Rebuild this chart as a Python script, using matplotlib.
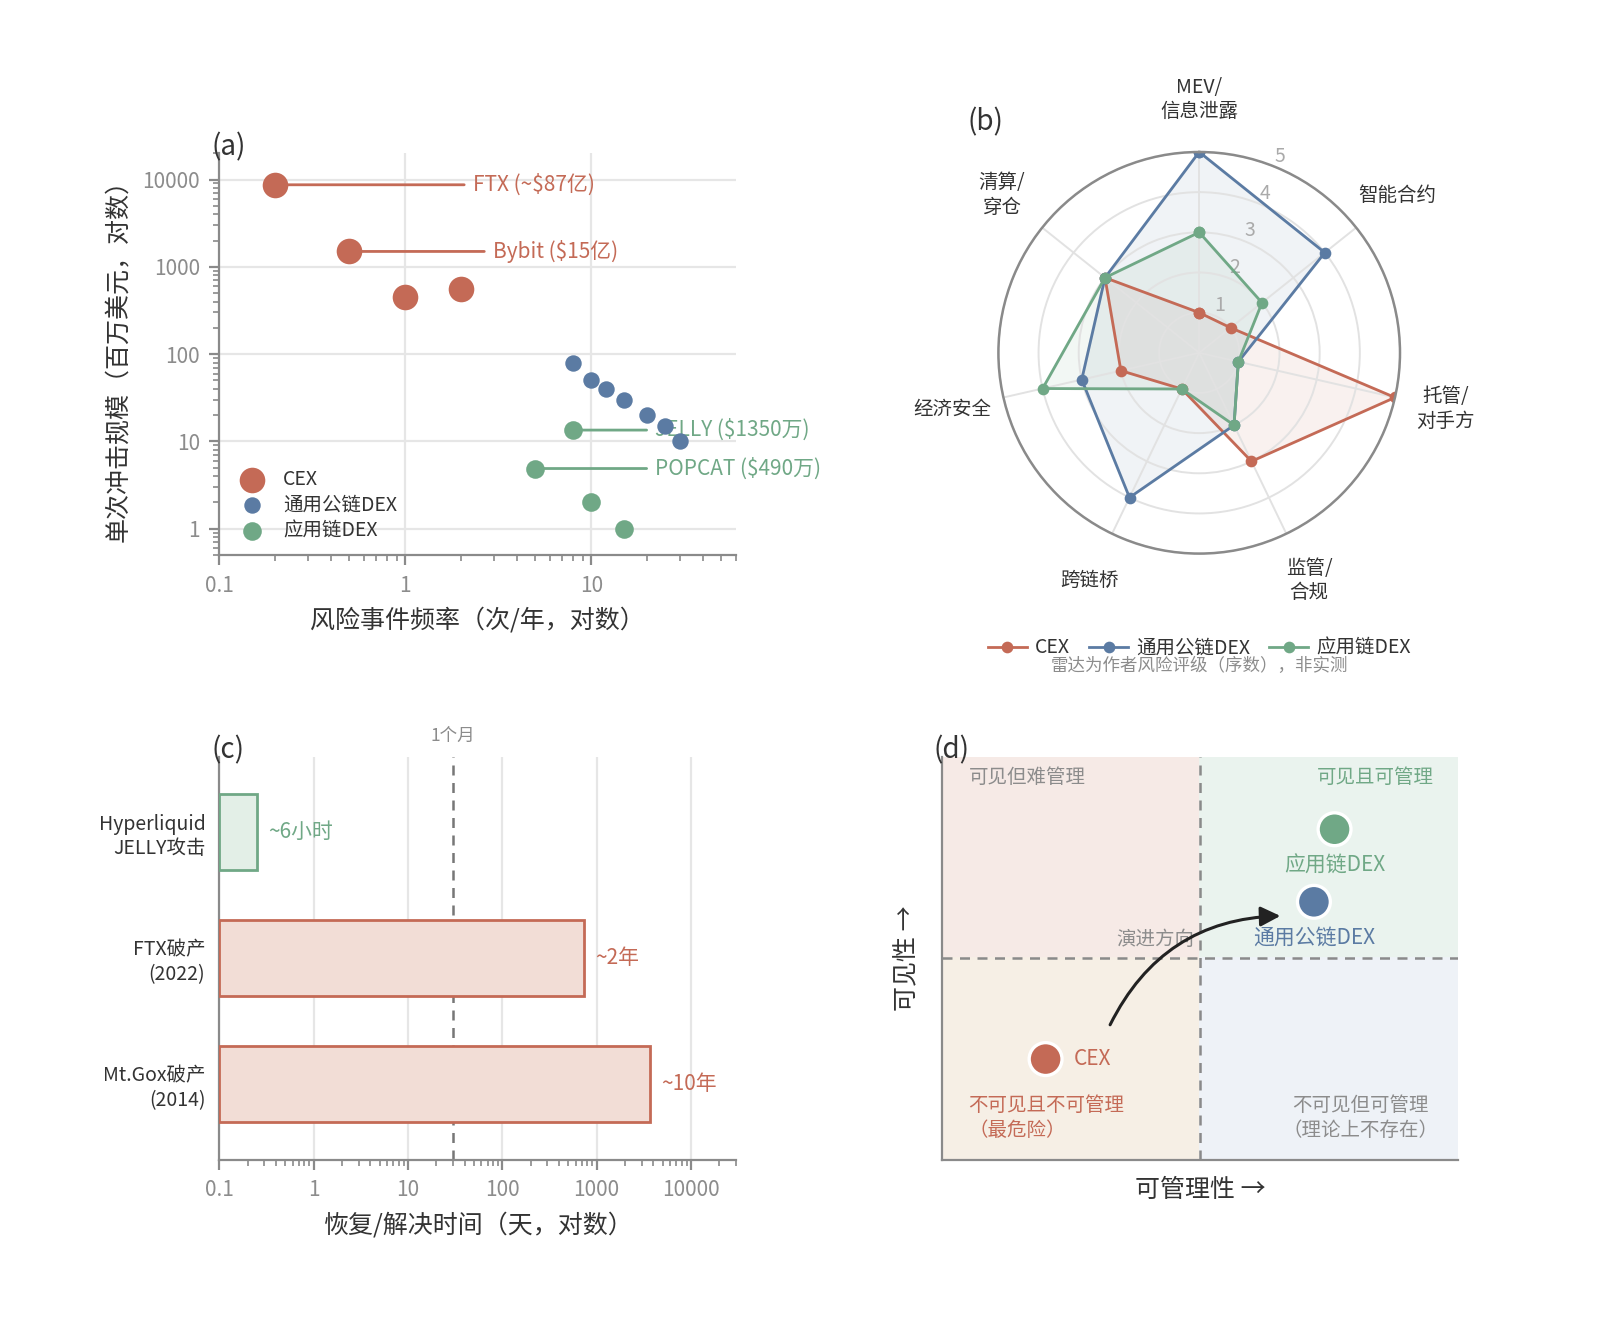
import numpy as np
import matplotlib.pyplot as plt
from matplotlib.patches import Rectangle

plt.rcParams['font.family'] = ['Noto Sans CJK SC', 'DejaVu Sans']
plt.rcParams['axes.unicode_minus'] = False

RED = '#C46A56'
BLUE = '#5B7BA3'
GREEN = '#70A886'
GRID = '#E6E6E6'
SPINE = '#8A8A8A'
TXT = '#333333'
GREY = '#8C8C8C'

# ---- (a) frequency vs impact ----
cex_freq = [0.2, 0.5, 1, 2]
cex_loss = [8700, 1500, 450, 550]
pub_freq = [8, 10, 12, 15, 20, 25, 30]
pub_loss = [80, 50, 40, 30, 20, 15, 10]
app_freq = [8, 5, 10, 15]
app_loss = [13.5, 4.9, 2, 1]
note_text = ['FTX (~$87亿)', 'Bybit ($15亿)', 'JELLY ($1350万)', 'POPCAT ($490万)']
note_px = [0.2, 0.5, 8, 5]
note_py = [8700, 1500, 13.5, 4.9]
note_tx = [2.3, 2.95, 22, 22]
note_col = [RED, RED, GREEN, GREEN]
a_xticks = [0.1, 1, 10]
a_xlabels = ['0.1', '1', '10']
a_yticks = [1, 10, 100, 1000, 10000]
a_ylabels = ['1', '10', '100', '1000', '10000']

# ---- (b) radar ----
radar_axes = ['MEV/\n信息泄露', '智能合约', '托管/\n对手方', '监管/\n合规', '跨链桥', '经济安全', '清算/\n穿仓']
radar_cex = [1, 1, 5, 3, 1, 2, 3]
radar_pub = [5, 4, 1, 2, 4, 3, 3]
radar_app = [3, 2, 1, 2, 1, 4, 3]

# ---- (c) recovery time ----
events = ['Hyperliquid\nJELLY攻击', 'FTX破产\n(2022)', 'Mt.Gox破产\n(2014)']
days = [0.25, 730, 3650]
day_text = ['~6小时', '~2年', '~10年']
c_xticks = [0.1, 1, 10, 100, 1000, 10000]
c_xlabels = ['0.1', '1', '10', '100', '1000', '10000']

# ---- (d) quadrant ----
d_names = ['CEX', '通用公链DEX', '应用链DEX']
d_manage = [0.2, 0.72, 0.76]
d_visible = [0.25, 0.64, 0.82]

fig = plt.figure(figsize=(8, 6.72), dpi=200)

# ================= (a) =================
ax = fig.add_axes([0.137, 0.587, 0.323, 0.299])
ax.set_xscale('log')
ax.set_yscale('log')
ax.set_xlim(0.1, 60)
ax.set_ylim(0.5, 2e4)
ax.scatter(cex_freq, cex_loss, s=85, color=RED, label='CEX', zorder=3, linewidths=0)
ax.scatter(pub_freq, pub_loss, s=35, color=BLUE, label='通用公链DEX', zorder=3, linewidths=0)
ax.scatter(app_freq, app_loss, s=45, color=GREEN, label='应用链DEX', zorder=3, linewidths=0)
for t, px, py, tx, c in zip(note_text, note_px, note_py, note_tx, note_col):
    ax.annotate(t, xy=(px, py), xytext=(tx, py), color=c, fontsize=7.5, va='center',
                arrowprops=dict(arrowstyle='-', color=c, lw=1.0, shrinkA=1, shrinkB=0), zorder=2)
ax.set_xticks(a_xticks, a_xlabels)
ax.set_yticks(a_yticks, a_ylabels)
ax.grid(True, which='major', color=GRID, lw=0.8)
ax.set_axisbelow(True)
for s in ['top', 'right']:
    ax.spines[s].set_visible(False)
for s in ['left', 'bottom']:
    ax.spines[s].set_color(SPINE)
ax.tick_params(which='both', colors=SPINE, labelcolor=GREY, labelsize=7.5)
ax.set_xlabel('风险事件频率（次/年，对数）', fontsize=9, color=TXT)
ax.set_ylabel('单次冲击规模（百万美元，对数）', fontsize=9, color=TXT)
leg = ax.legend(loc='lower left', frameon=False, fontsize=7, labelspacing=0.25,
                handletextpad=0.6, borderaxespad=0.3)
for t in leg.get_texts():
    t.set_color(TXT)
ax.text(-0.015, 1.015, '(a)', transform=ax.transAxes, fontsize=10, color=TXT, va='center', ha='left')

# ================= (b) =================
bx = fig.add_axes([0.624, 0.588, 0.251, 0.299], projection='polar')
bx.set_theta_offset(np.pi / 2)
bx.set_theta_direction(-1)
n = len(radar_axes)
ang = np.linspace(0, 2 * np.pi, n, endpoint=False)
ang_c = np.append(ang, ang[0])
for vals, col, lab in [(radar_cex, RED, 'CEX'), (radar_pub, BLUE, '通用公链DEX'), (radar_app, GREEN, '应用链DEX')]:
    v = np.append(vals, vals[0])
    bx.plot(ang_c, v, color=col, lw=1.0, marker='o', ms=3.2, label=lab)
    bx.fill(ang_c, v, color=col, alpha=0.09)
bx.set_ylim(0, 5)
bx.set_yticks([1, 2, 3, 4, 5])
bx.set_yticklabels(['1', '2', '3', '4', '5'], color='#AAAAAA', fontsize=7)
bx.set_rlabel_position(22)
bx.set_xticks(ang)
bx.set_xticklabels([])
for a, lab in zip(ang, radar_axes):
    bx.text(a, 6.3, lab, ha='center', va='center', fontsize=7, color=TXT)
bx.grid(True, color='#E2E2E2', lw=0.7)
bx.spines['polar'].set_color(SPINE)
bx.spines['polar'].set_linewidth(0.9)
bleg = bx.legend(loc='center', bbox_to_anchor=(0.5, -0.235), ncol=3, frameon=False,
                 fontsize=7, handlelength=2.0, columnspacing=1.0, handletextpad=0.4)
for t in bleg.get_texts():
    t.set_color(TXT)
bx.text(0.5, -0.28, '雷达为作者风险评级（序数），非实测', transform=bx.transAxes,
        ha='center', va='center', fontsize=6.3, color=GREY)
bx.text(-0.077, 1.075, '(b)', transform=bx.transAxes, fontsize=10, color=TXT, va='center', ha='left')

# ================= (c) =================
cx = fig.add_axes([0.137, 0.137, 0.323, 0.300])
cx.set_xscale('log')
cx.set_xlim(0.1, 3e4)
cx.set_ylim(-0.6, 2.6)
ypos = np.arange(len(events))[::-1]
faces = ['#E3EFE7', '#F2DDD6', '#F2DDD6']
edges = [GREEN, RED, RED]
for y, d, fc, ec, lab in zip(ypos, days, faces, edges, day_text):
    cx.barh(y, d - 0.1, left=0.1, height=0.6, color=fc, edgecolor=ec, lw=1.0, zorder=3)
    cx.annotate(lab, xy=(d, y), xytext=(4, 0), textcoords='offset points',
                va='center', ha='left', fontsize=7.5, color=ec)
cx.axvline(30, color='#777777', lw=0.9, ls=(0, (4, 3)), zorder=2)
cx.annotate('1个月', xy=(30, 1.0), xycoords=('data', 'axes fraction'), xytext=(0, 7.5),
            textcoords='offset points', ha='center', va='center', fontsize=6.3, color=GREY)
cx.set_yticks(ypos, events)
cx.set_xticks(c_xticks, c_xlabels)
cx.grid(True, axis='x', which='major', color=GRID, lw=0.8)
cx.set_axisbelow(True)
for s in ['top', 'right']:
    cx.spines[s].set_visible(False)
for s in ['left', 'bottom']:
    cx.spines[s].set_color(SPINE)
cx.tick_params(axis='x', which='both', colors=SPINE, labelcolor=GREY, labelsize=7.5)
cx.tick_params(axis='y', length=0, labelsize=7, labelcolor=TXT, pad=5)
cx.set_xlabel('恢复/解决时间（天，对数）', fontsize=9, color=TXT)
cx.text(-0.015, 1.015, '(c)', transform=cx.transAxes, fontsize=10, color=TXT, va='center', ha='left')

# ================= (d) =================
dx = fig.add_axes([0.589, 0.137, 0.3225, 0.300])
dx.set_xlim(0, 1)
dx.set_ylim(0, 1)
dx.add_patch(Rectangle((0, 0.5), 0.5, 0.5, color='#F6EAE6', zorder=0))
dx.add_patch(Rectangle((0.5, 0.5), 0.5, 0.5, color='#EAF3EE', zorder=0))
dx.add_patch(Rectangle((0, 0), 0.5, 0.5, color='#F6EFE5', zorder=0))
dx.add_patch(Rectangle((0.5, 0), 0.5, 0.5, color='#EEF2F7', zorder=0))
dx.axvline(0.5, color='#8A8A8A', lw=0.9, ls=(0, (4, 3)))
dx.axhline(0.5, color='#8A8A8A', lw=0.9, ls=(0, (4, 3)))
dcols = [RED, BLUE, GREEN]
dx.scatter(d_manage, d_visible, s=140, c=dcols, edgecolors='white', linewidths=1.2, zorder=4)
dx.annotate(d_names[0], xy=(d_manage[0], d_visible[0]), xytext=(10, 0), textcoords='offset points',
            ha='left', va='center', fontsize=7.5, color=RED)
for i in (1, 2):
    dx.annotate(d_names[i], xy=(d_manage[i], d_visible[i]), xytext=(0, -13), textcoords='offset points',
                ha='center', va='center', fontsize=7.5, color=dcols[i])
dx.annotate('', xy=(0.655, 0.605), xytext=(0.325, 0.335),
            arrowprops=dict(arrowstyle='-|>', color='#222222', lw=1.1, mutation_scale=15,
                            connectionstyle='arc3,rad=-0.3', shrinkA=0, shrinkB=0), zorder=5)
dx.text(0.413, 0.546, '演进方向', ha='center', va='center', fontsize=7, color=GREY)
dx.text(0.165, 0.948, '可见但难管理', ha='center', va='center', fontsize=7, color=GREY)
dx.text(0.84, 0.948, '可见且可管理', ha='center', va='center', fontsize=7, color=GREEN)
dx.text(0.05, 0.104, '不可见且不可管理\n（最危险）', ha='left', va='center', fontsize=7, color=RED,
        linespacing=1.3)
dx.text(0.81, 0.104, '不可见但可管理\n（理论上不存在）', ha='center', va='center', fontsize=7, color=GREY,
        linespacing=1.3)
dx.set_xticks([])
dx.set_yticks([])
for s in ['top', 'right']:
    dx.spines[s].set_visible(False)
for s in ['left', 'bottom']:
    dx.spines[s].set_color(SPINE)
dx.set_xlabel('可管理性 →', fontsize=9, color=TXT, labelpad=6)
dx.set_ylabel('可见性 →', fontsize=9, color=TXT, labelpad=8)
dx.text(-0.017, 1.015, '(d)', transform=dx.transAxes, fontsize=10, color=TXT, va='center', ha='left')

fig.savefig('out.png', dpi=200, facecolor='white')
